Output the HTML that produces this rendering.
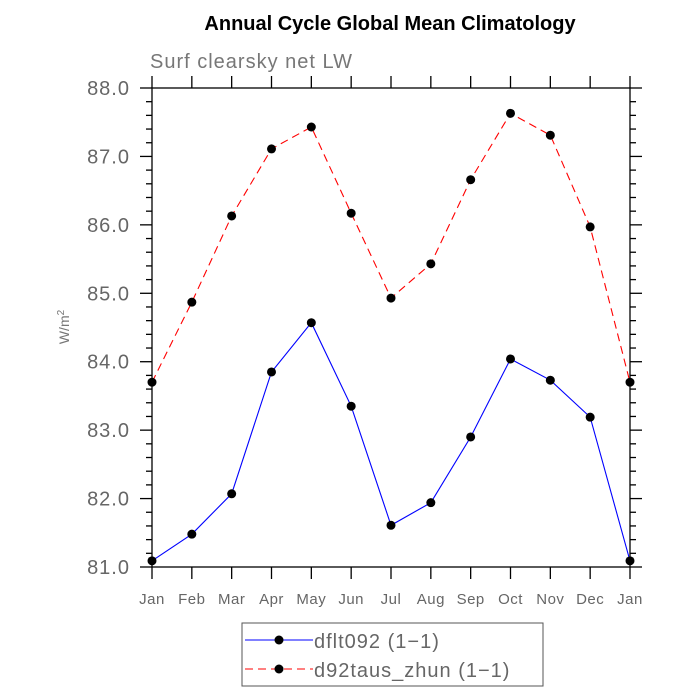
<!DOCTYPE html>
<html><head><meta charset="utf-8"><style>
body{margin:0;background:#fff;}
svg{display:block;font-family:"Liberation Sans",sans-serif;}
</style></head><body>
<svg id="chart" width="700" height="700" xmlns="http://www.w3.org/2000/svg"></svg>
<script>
const months = ["Jan","Feb","Mar","Apr","May","Jun","Jul","Aug","Sep","Oct","Nov","Dec","Jan"];
const seriesBlue = [81.09,81.48,82.07,83.85,84.57,83.35,81.61,81.94,82.90,84.04,83.73,83.19,81.09];
const seriesRed = [83.70,84.87,86.13,87.11,87.43,86.17,84.93,85.43,86.66,87.63,87.31,85.97,83.70];
const yTicks = [81,82,83,84,85,86,87,88];
const yTickLabels = ["81.0","82.0","83.0","84.0","85.0","86.0","87.0","88.0"];

const L=152,R=630,T=88,B=567,yMin=81,yMax=88;
const xs=i=>L+(R-L)*i/(months.length-1);
const ys=v=>B-(v-yMin)/(yMax-yMin)*(B-T);
const svg=document.getElementById('chart');
const NS="http://www.w3.org/2000/svg";
function mk(tag,attrs,parent){const e=document.createElementNS(NS,tag);for(const k in attrs)e.setAttribute(k,attrs[k]);(parent||svg).appendChild(e);return e;}

let t=mk('text',{x:390,y:30,'text-anchor':'middle','font-size':20,'font-weight':'bold',fill:'#000'});
t.textContent="Annual Cycle Global Mean Climatology";


t=mk('text',{x:150,y:68,'font-size':20,fill:'#777','letter-spacing':'1'});
t.textContent="Surf clearsky net LW";


t=mk('text',{x:0,y:0,'font-size':14,fill:'#777','text-anchor':'middle',transform:'translate(69,327) rotate(-90)'});
t.innerHTML='W/m<tspan dy="-5" font-size="10">2</tspan>';



const axes=mk('g',{stroke:'#000','stroke-width':1.3,fill:'none'});


mk('rect',{x:L,y:T,width:R-L,height:B-T},axes);
// x ticks
months.forEach((m,i)=>{
  const x=xs(i);
  mk('line',{x1:x,y1:B,x2:x,y2:B+12},axes);
  mk('line',{x1:x,y1:T,x2:x,y2:T-12},axes);
  const lb=mk('text',{x:x,y:604,'text-anchor':'middle','font-size':15,fill:'#666',stroke:'none','letter-spacing':'0.5'});
  lb.textContent=m;
  
  
});
// y ticks
for(let v=yMin;v<=yMax+1e-6;v+=0.2){
  const y=ys(v);const major=Math.abs(v-Math.round(v))<1e-6;
  const len=major?12:6;
  mk('line',{x1:L,y1:y,x2:L-len,y2:y},axes);
  mk('line',{x1:R,y1:y,x2:R+len,y2:y},axes);
}
yTicks.forEach((v,i)=>{
  const lb=mk('text',{x:130,y:ys(v)+7,'text-anchor':'end','font-size':20,fill:'#666','letter-spacing':'1'});
  lb.textContent=yTickLabels[i];
  
  
});

function series(vals,color,dash,name){
  const g=mk('g',{});
  
  
  mk('polyline',{points:vals.map((v,i)=>xs(i)+','+ys(v)).join(' '),fill:'none',stroke:color,'stroke-width':1.1,'stroke-dasharray':dash},g);
  vals.forEach((v,i)=>{const c=mk('circle',{cx:xs(i),cy:ys(v),r:4.5,fill:'#000'},g);
    
    });
}
series(seriesRed,'#f00','8,5','series-d92taus-zhun');
series(seriesBlue,'#00f','none','series-dflt092');

// legend
const lg=mk('g',{});


mk('rect',{x:242,y:623,width:301,height:63,fill:'none',stroke:'#555','stroke-width':1},lg);
const entries=[['dflt092 (1\u22121)','#00f','none',640],['d92taus_zhun (1\u22121)','#f00','8,5',669]];
entries.forEach(e=>{
  const eg=mk('g',{},lg);
  
  
  mk('line',{x1:245,y1:e[3],x2:313,y2:e[3],stroke:e[1],'stroke-width':1.1,'stroke-dasharray':e[2]},eg);
  mk('circle',{cx:279,cy:e[3],r:4.5,fill:'#000'},eg);
  const tx=mk('text',{x:314,y:e[3]+8,'font-size':20,fill:'#666','letter-spacing':'1'},eg);
  tx.textContent=e[0];
});
</script>
</body></html>
